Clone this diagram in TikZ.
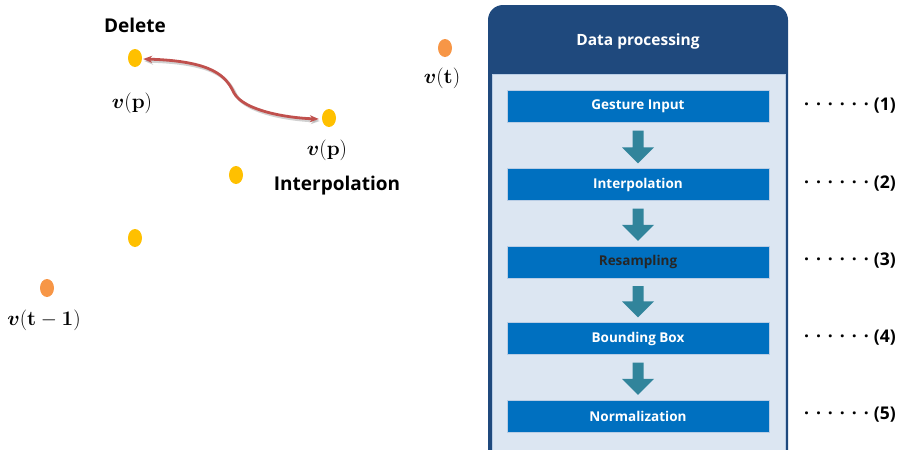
\documentclass[tikz,border=0pt]{standalone}
\usepackage{amsmath,amssymb}
\usepackage[no-math]{fontspec}
\setmainfont{Open Sans}
\usetikzlibrary{shapes.geometric,arrows.meta,calc}
\definecolor{hdrblue}{RGB}{31,73,125}
\definecolor{panel}{RGB}{220,230,242}
\definecolor{panelline}{RGB}{185,205,229}
\definecolor{barblue}{RGB}{0,112,192}
\definecolor{tealc}{RGB}{49,132,155}
\definecolor{ydotc}{RGB}{255,192,0}
\definecolor{odotc}{RGB}{247,150,70}
\definecolor{redc}{RGB}{192,80,77}
\newcommand\tealarr[2]{%
  \fill[tealc] ($(#1.south)+(-5.5,8)$) -- ($(#1.south)+(5.5,8)$) --
   ($(#2.north)+(5.5,-21)$) -- ($(#2.north)+(16,-21)$) -- ($(#2.north)+(0,-5)$) --
   ($(#2.north)+(-16,-21)$) -- ($(#2.north)+(-5.5,-21)$) -- cycle;}
\newcommand\dotrow{·\hspace{7pt}·\hspace{7pt}·\hspace{7pt}·\hspace{7pt}·\hspace{7pt}·\hspace{5pt}}
\tikzset{
  barbox/.style={fill=barblue, draw=panelline, line width=0.4pt, minimum width=262pt, minimum height=32pt, inner sep=0pt, text=white, font=\fontsize{13.5}{15}\selectfont\bfseries},
  ydot/.style={ellipse, fill=ydotc, minimum width=14pt, minimum height=18pt, inner sep=0pt},
  odot/.style={ellipse, fill=odotc, minimum width=14pt, minimum height=18pt, inner sep=0pt},
  mlabel/.style={inner sep=0pt, font=\fontsize{20}{22}\selectfont},
  blabel/.style={inner sep=0pt, font=\fontsize{19}{22}\selectfont\bfseries},
  numlabel/.style={inner sep=0pt, anchor=east, font=\fontsize{17.5}{20}\selectfont\bfseries}
}
\begin{document}
\begin{tikzpicture}[x=1pt,y=-1pt]
\useasboundingbox (0,0) rectangle (903,450);
\begin{scope}
\clip (0,0) rectangle (903,450);
% outer frame
\fill[hdrblue, rounded corners=15pt] (488,470) rectangle (788,5);
\fill[panel, draw=panelline, line width=0.6pt] (492,74) rectangle (785,470);
\end{scope}
\node[inner sep=0pt, text=white, font=\fontsize{15.5}{17}\selectfont\bfseries] (title) at (638,41) {Data processing};
% bars
\node[barbox] (b1) at (638,106.5) {Gesture Input};
\node[barbox] (b2) at (638,184.5) {Interpolation};
\node[barbox, text=black!85] (b3) at (638,262) {Resampling};
\node[barbox] (b4) at (638,338.5) {Bounding Box};
\node[barbox] (b5) at (638,416) {Normalization};
\tealarr{b1}{b2}
\tealarr{b2}{b3}
\tealarr{b3}{b4}
\tealarr{b4}{b5}
% numbering
\node[numlabel] (n1) at (896,106) {\dotrow(1)};
\node[numlabel] (n2) at (896,184) {\dotrow(2)};
\node[numlabel] (n3) at (896,261) {\dotrow(3)};
\node[numlabel] (n4) at (896,338) {\dotrow(4)};
\node[numlabel] (n5) at (896,415) {\dotrow(5)};
% left part
\node[ydot] (d1) at (135,58) {};
\node[ydot] (d2) at (329,118) {};
\node[ydot] (d3) at (236,175) {};
\node[ydot] (d4) at (135,238) {};
\node[odot] (o1) at (47,288) {};
\node[odot] (o2) at (445,48) {};
\node[blabel] (del) at (135,25) {Delete};
\node[blabel] (interp) at (337,186) {Interpolation};
\node[mlabel] (l1) at (132,103) {$\boldsymbol{v}(\mathbf{p})$};
\node[mlabel] (l2) at (327,150) {$\boldsymbol{v}(\mathbf{p})$};
\node[mlabel] (l3) at (442,78) {$\boldsymbol{v}(\mathbf{t})$};
\node[mlabel] (l4) at (44,320) {$\boldsymbol{v}(\mathbf{t}-\mathbf{1})$};
% red curved arrow with soft shadow
\draw[black!30, line width=3pt, opacity=0.6, {Stealth[length=9pt,width=7pt]}-{Stealth[length=9pt,width=7pt]}]
  ($(d1.east)+(2,3)$) .. controls (215,63) and (228,78) .. (236,95) .. controls (246,113) and (290,120) .. ($(d2.west)+(-2,3)$);
\draw[redc, line width=2.8pt, {Stealth[length=9pt,width=7pt]}-{Stealth[length=9pt,width=7pt]}]
  ($(d1.east)+(1,1)$) .. controls (213,61) and (226,76) .. (234,93) .. controls (244,111) and (288,118) .. ($(d2.west)+(-3,1)$);
\end{tikzpicture}
\end{document}
